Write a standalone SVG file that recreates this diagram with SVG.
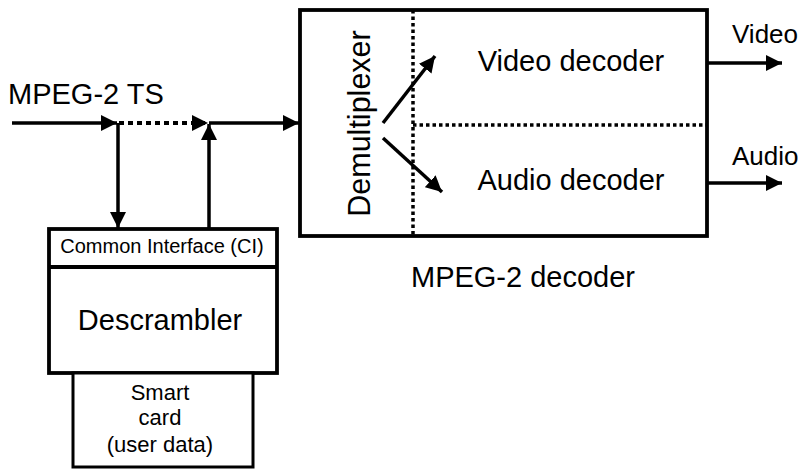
<svg xmlns="http://www.w3.org/2000/svg" width="809" height="469" viewBox="0 0 809 469">
<style>
text{font-family:"Liberation Sans",Arial,sans-serif;fill:#000}
.box{fill:#fff;stroke:#000;stroke-width:3.8}
.ln{fill:none;stroke:#000;stroke-width:3.5}
.dot{fill:none;stroke:#000;stroke-width:3.5;stroke-dasharray:3.5 3}
.big{font-size:29px}
.mid{font-size:26px}
.sm{font-size:20px}
.sc{font-size:22px}
</style>
<defs>
<marker id="ah" markerUnits="userSpaceOnUse" markerWidth="17" markerHeight="17" refX="16" refY="8.5" orient="auto">
<path d="M0,0.5 L16,8.5 L0,16.5 z" fill="#000"/>
</marker>
</defs>
<g id="decoder">
<rect class="box" x="300" y="10" width="407" height="226"/>
<line class="dot" x1="413" y1="10" x2="413" y2="236"/>
<line class="dot" x1="413" y1="125" x2="707" y2="125"/>
<text transform="translate(370,123.5) rotate(-90)" text-anchor="middle" style="font-size:30.5px">Demultiplexer</text>
<text class="big" x="571" y="71" text-anchor="middle">Video decoder</text>
<text class="big" x="571" y="190" text-anchor="middle">Audio decoder</text>
<text class="big" x="523" y="287" text-anchor="middle">MPEG-2 decoder</text>
</g>
<g id="ci">
<rect class="box" x="49" y="229" width="228" height="144"/>
<line class="ln" x1="49" y1="267" x2="277" y2="267" style="stroke-width:3.8"/>
<text class="sm" x="162" y="253" text-anchor="middle">Common Interface (CI)</text>
<text class="big" x="160" y="330" text-anchor="middle">Descrambler</text>
</g>
<g id="smartcard">
<rect class="box" x="73" y="373" width="180" height="94" style="stroke-width:3"/>
<text class="sc" x="160" y="400" text-anchor="middle">Smart</text>
<text class="sc" x="160" y="425" text-anchor="middle">card</text>
<text class="sc" x="160" y="452" text-anchor="middle">(user data)</text>
</g>
<g id="labels">
<text class="big" x="8" y="104">MPEG-2 TS</text>
<text class="mid" x="732" y="43">Video</text>
<text class="mid" x="732" y="165">Audio</text>
</g>
<g id="connectors">
<line class="ln" x1="12" y1="123" x2="117" y2="123" marker-end="url(#ah)"/>
<line x1="119" y1="123" x2="208" y2="123" style="stroke:#000;stroke-width:4;stroke-dasharray:5 4" marker-end="url(#ah)"/>
<line class="ln" x1="209" y1="123" x2="299" y2="123" marker-end="url(#ah)"/>
<line class="ln" x1="118" y1="123" x2="118" y2="228" marker-end="url(#ah)"/>
<line class="ln" x1="209" y1="228" x2="209" y2="124" marker-end="url(#ah)"/>
<line class="ln" x1="383" y1="123" x2="435" y2="56" marker-end="url(#ah)"/>
<line class="ln" x1="383" y1="138" x2="442" y2="192" marker-end="url(#ah)"/>
<line class="ln" x1="707" y1="63" x2="782" y2="63" marker-end="url(#ah)"/>
<line class="ln" x1="707" y1="183" x2="782" y2="183" marker-end="url(#ah)"/>
</g>
</svg>
